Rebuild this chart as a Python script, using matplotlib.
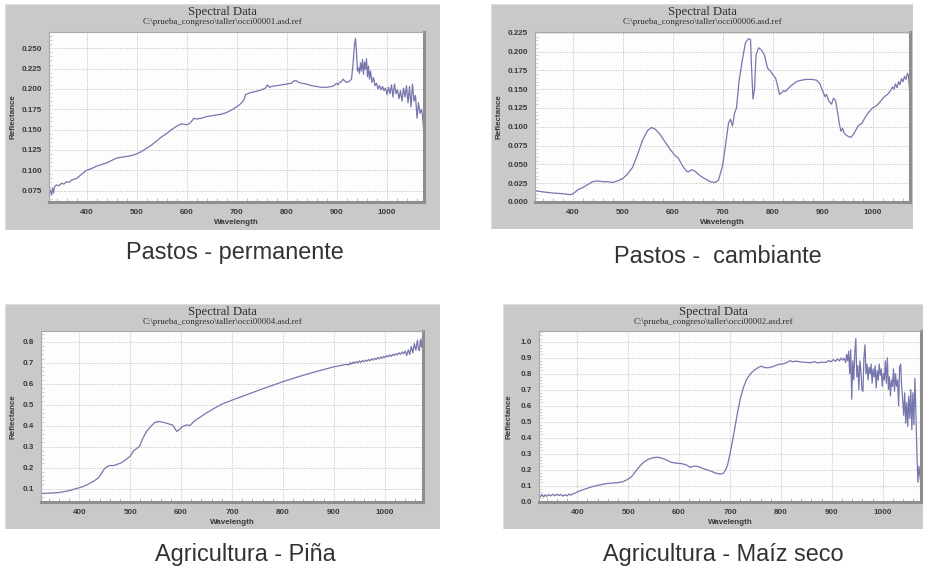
import numpy as np
import matplotlib
matplotlib.use("Agg")
import matplotlib.pyplot as plt
from matplotlib.patches import Rectangle
from matplotlib.ticker import MultipleLocator, FormatStrFormatter

# --- Pastos - permanente (occi00001) ---
wl_perm = [325, 328, 330, 332, 334, 336, 340, 345, 350, 355, 360, 365, 370, 380, 390,
           400, 410, 420, 430, 440, 450, 460, 470, 480, 490, 500, 510, 520, 530, 540,
           550, 560, 570, 580, 590, 600, 605, 610, 615, 620, 630, 640, 650, 660, 670,
           680, 690, 700, 705, 710, 715, 718, 722, 730, 740, 750, 758, 762, 766, 770,
           780, 790, 800, 810, 815, 820, 825, 830, 840, 850, 860, 870, 880, 890, 895,
           900, 903, 906, 910, 913, 916, 920, 925, 930, 933, 936, 938, 940, 942, 944,
           946, 948, 950, 952, 954, 956, 958, 960, 962, 964, 966, 968, 971, 974, 977,
           980, 983, 986, 989, 992, 995, 998, 1001, 1004, 1007, 1010, 1013, 1016, 1019, 1022,
           1025, 1028, 1031, 1034, 1037, 1040, 1043, 1046, 1049, 1052, 1055, 1058, 1061, 1064, 1067,
           1070, 1072, 1074, 1075]
refl_perm = [0.079, 0.074, 0.070, 0.078, 0.072, 0.080, 0.082, 0.081, 0.084, 0.083, 0.086, 0.085, 0.088, 0.090, 0.095,
             0.100, 0.102, 0.105, 0.107, 0.109, 0.112, 0.115, 0.116, 0.117, 0.118, 0.120, 0.123, 0.127, 0.131, 0.136,
             0.141, 0.145, 0.150, 0.154, 0.157, 0.156, 0.157, 0.160, 0.164, 0.163, 0.164, 0.166, 0.167, 0.168, 0.169,
             0.171, 0.174, 0.178, 0.180, 0.183, 0.187, 0.193, 0.194, 0.196, 0.197, 0.199, 0.201, 0.205, 0.202, 0.203,
             0.204, 0.205, 0.206, 0.207, 0.210, 0.210, 0.208, 0.207, 0.206, 0.204, 0.203, 0.202, 0.202, 0.203, 0.204,
             0.207, 0.205, 0.208, 0.209, 0.212, 0.210, 0.208, 0.209, 0.212, 0.230, 0.255, 0.262, 0.245, 0.222, 0.226,
             0.219, 0.232, 0.222, 0.236, 0.218, 0.233, 0.224, 0.237, 0.215, 0.228, 0.212, 0.222, 0.208, 0.214, 0.204,
             0.207, 0.200, 0.204, 0.199, 0.203, 0.198, 0.201, 0.193, 0.202, 0.194, 0.205, 0.190, 0.206, 0.194, 0.199,
             0.188, 0.198, 0.185, 0.201, 0.190, 0.204, 0.183, 0.203, 0.178, 0.206, 0.185, 0.192, 0.164, 0.183, 0.170,
             0.175, 0.168, 0.150, 0.142]

# --- Pastos - cambiante (occi00006) ---
wl_camb = [325, 340, 360, 380, 395, 400, 405, 410, 420, 430, 440, 450, 460, 470, 480,
           490, 500, 510, 520, 530, 540, 550, 558, 565, 575, 585, 595, 605, 612, 620,
           628, 632, 638, 645, 655, 665, 675, 685, 692, 700, 706, 712, 716, 720, 724,
           728, 733, 740, 746, 752, 756, 758, 761, 764, 767, 772, 778, 784, 790, 796,
           802, 806, 810, 814, 818, 822, 826, 830, 838, 848, 858, 868, 878, 888, 895,
           900, 905, 908, 912, 918, 922, 926, 930, 934, 937, 940, 943, 947, 952, 957,
           962, 967, 972, 978, 985, 992, 1000, 1008, 1015, 1022, 1030, 1036, 1040, 1043, 1046,
           1049, 1052, 1055, 1058, 1061, 1064, 1067, 1070, 1072, 1074, 1075]
refl_camb = [0.015, 0.0135, 0.012, 0.011, 0.0098, 0.0105, 0.013, 0.016, 0.019, 0.023, 0.027, 0.028, 0.027, 0.027, 0.026,
             0.028, 0.031, 0.037, 0.046, 0.063, 0.082, 0.095, 0.099, 0.097, 0.090, 0.080, 0.070, 0.062, 0.058, 0.048,
             0.041, 0.040, 0.043, 0.041, 0.035, 0.031, 0.027, 0.026, 0.029, 0.048, 0.075, 0.105, 0.110, 0.101, 0.118,
             0.125, 0.160, 0.190, 0.212, 0.217, 0.216, 0.180, 0.137, 0.150, 0.195, 0.205, 0.202, 0.195, 0.178, 0.174,
             0.168, 0.165, 0.155, 0.143, 0.145, 0.148, 0.147, 0.150, 0.155, 0.160, 0.162, 0.163, 0.163, 0.162, 0.157,
             0.148, 0.140, 0.143, 0.135, 0.130, 0.138, 0.135, 0.120, 0.103, 0.094, 0.098, 0.092, 0.089, 0.087, 0.086,
             0.090, 0.096, 0.102, 0.104, 0.112, 0.119, 0.125, 0.128, 0.133, 0.139, 0.143, 0.148, 0.153, 0.150, 0.157,
             0.152, 0.160, 0.156, 0.164, 0.160, 0.167, 0.163, 0.171, 0.168, 0.150, 0.148]

# --- Agricultura - Piña (occi00004) ---
wl_pina = [325, 340, 360, 380, 400, 410, 420, 430, 438, 445, 450, 455, 460, 468, 475,
           482, 490, 500, 506, 512, 518, 525, 532, 540, 548, 555, 562, 570, 578, 584,
           588, 592, 597, 603, 610, 618, 625, 635, 650, 665, 680, 700, 720, 740, 760,
           780, 800, 820, 840, 860, 880, 900, 915, 925, 930, 932, 935, 938, 941, 944,
           947, 950, 953, 956, 959, 962, 965, 968, 971, 974, 977, 980, 983, 986, 989,
           992, 995, 998, 1001, 1004, 1007, 1010, 1013, 1016, 1019, 1022, 1025, 1028, 1031, 1034,
           1037, 1040, 1043, 1046, 1049, 1052, 1055, 1058, 1061, 1064, 1066, 1068, 1070, 1072, 1074,
           1075]
refl_pina = [0.077, 0.078, 0.081, 0.090, 0.104, 0.112, 0.124, 0.138, 0.152, 0.178, 0.196, 0.205, 0.210, 0.210, 0.216,
             0.222, 0.235, 0.254, 0.278, 0.290, 0.300, 0.340, 0.372, 0.395, 0.415, 0.420, 0.418, 0.413, 0.407, 0.402,
             0.385, 0.373, 0.382, 0.397, 0.403, 0.402, 0.420, 0.437, 0.461, 0.483, 0.503, 0.522, 0.540, 0.558, 0.576,
             0.593, 0.610, 0.626, 0.641, 0.655, 0.668, 0.681, 0.688, 0.693, 0.690, 0.701, 0.694, 0.704, 0.697, 0.706,
             0.700, 0.709, 0.702, 0.711, 0.705, 0.713, 0.708, 0.716, 0.710, 0.719, 0.713, 0.722, 0.716, 0.725, 0.719,
             0.728, 0.722, 0.731, 0.726, 0.735, 0.729, 0.738, 0.731, 0.741, 0.735, 0.744, 0.738, 0.748, 0.741, 0.752,
             0.744, 0.756, 0.735, 0.762, 0.740, 0.778, 0.748, 0.792, 0.760, 0.808, 0.768, 0.758, 0.812, 0.775, 0.822,
             0.800]

# --- Agricultura - Maíz seco (occi00002) ---
wl_maiz = [325, 328, 331, 334, 337, 340, 344, 348, 352, 356, 360, 364, 368, 372, 376,
           380, 384, 388, 392, 396, 400, 410, 420, 430, 440, 450, 460, 470, 480, 490,
           500, 508, 515, 522, 530, 540, 550, 558, 566, 575, 585, 595, 605, 615, 622,
           628, 634, 640, 648, 656, 664, 672, 680, 686, 690, 695, 700, 705, 710, 715,
           720, 726, 732, 740, 748, 756, 762, 768, 775, 785, 795, 805, 812, 818, 822,
           830, 840, 850, 860, 866, 872, 880, 888, 894, 898, 903, 907, 911, 915, 918,
           921, 924, 927, 929, 931, 933, 935, 937, 939, 941, 943, 945, 947, 949, 951,
           953, 955, 957, 959, 961, 963, 965, 967, 969, 971, 973, 975, 977, 979, 981,
           983, 985, 987, 989, 991, 993, 995, 997, 999, 1001, 1003, 1005, 1007, 1009, 1011,
           1013, 1015, 1017, 1019, 1021, 1023, 1025, 1027, 1029, 1031, 1033, 1035, 1037, 1039, 1041,
           1043, 1045, 1047, 1049, 1051, 1053, 1055, 1057, 1059, 1061, 1063, 1065, 1067, 1069, 1071,
           1073, 1075]
refl_maiz = [0.040, 0.030, 0.045, 0.028, 0.042, 0.032, 0.044, 0.035, 0.046, 0.036, 0.045, 0.038, 0.044, 0.034, 0.042,
             0.035, 0.047, 0.040, 0.050, 0.052, 0.060, 0.072, 0.083, 0.093, 0.101, 0.108, 0.113, 0.116, 0.118, 0.124,
             0.140, 0.160, 0.190, 0.218, 0.245, 0.265, 0.275, 0.277, 0.272, 0.260, 0.245, 0.240, 0.237, 0.228, 0.213,
             0.220, 0.222, 0.216, 0.205, 0.197, 0.188, 0.178, 0.172, 0.175, 0.190, 0.225, 0.300, 0.380, 0.470, 0.560,
             0.640, 0.710, 0.760, 0.800, 0.822, 0.840, 0.847, 0.838, 0.837, 0.845, 0.858, 0.862, 0.870, 0.882, 0.875,
             0.878, 0.873, 0.870, 0.869, 0.876, 0.867, 0.872, 0.870, 0.882, 0.874, 0.888, 0.877, 0.892, 0.880, 0.898,
             0.885, 0.896, 0.870, 0.920, 0.880, 0.940, 0.800, 0.950, 0.640, 0.880, 0.760, 0.930, 1.020, 0.780, 0.850,
             0.700, 0.880, 0.820, 0.700, 0.690, 0.900, 0.980, 0.800, 0.860, 0.760, 0.840, 0.800, 0.860, 0.740, 0.830,
             0.780, 0.850, 0.710, 0.820, 0.760, 0.860, 0.790, 0.830, 0.720, 0.800, 0.760, 0.880, 0.740, 0.900, 0.700,
             0.780, 0.660, 0.760, 0.720, 0.830, 0.690, 0.800, 0.720, 0.760, 0.600, 0.840, 0.860, 0.720, 0.640, 0.540,
             0.680, 0.490, 0.620, 0.470, 0.660, 0.520, 0.700, 0.450, 0.680, 0.480, 0.770, 0.550, 0.300, 0.120, 0.220,
             0.160, 0.100]

x_ticks = [400, 500, 600, 700, 800, 900, 1000]
subtitle_tpl = "C:\\prueba_congreso\\taller\\occi{:05d}.asd.ref"

W, H = 926, 570
LINE = "#7676ae"
FRAME = "#c9c9c9"

fig = plt.figure(figsize=(W / 100, H / 100), dpi=100)
fig.patch.set_facecolor("white")


def px_box(x0, y0, x1, y1):
    # pixel box (origin top-left) -> figure fraction [left, bottom, width, height]
    return [x0 / W, 1 - y1 / H, (x1 - x0) / W, (y1 - y0) / H]


def panel(frame, plot, wl, refl, ylim, ymajor, yfmt, file_no, ylab_x, caption, cap_xy):
    fx0, fy0, fx1, fy1 = frame
    # grey window behind the plot
    bg = fig.add_axes(px_box(*frame), zorder=-5)
    bg.set_axis_off()
    bg.add_patch(Rectangle((0, 0), 1, 1, transform=bg.transAxes, facecolor=FRAME,
                           edgecolor="#dcdcdc", linewidth=0.8))

    ax = fig.add_axes(px_box(*plot), zorder=1)
    ax.set_facecolor("#fdfdfd")
    ax.plot(wl, refl, color=LINE, linewidth=0.9)
    ax.set_xlim(325, 1075)
    ax.set_ylim(*ylim)

    ax.set_xticks(x_ticks)
    ax.xaxis.set_minor_locator(MultipleLocator(20))
    ax.yaxis.set_major_locator(MultipleLocator(ymajor))
    ax.yaxis.set_minor_locator(MultipleLocator(ymajor / 5))
    ax.yaxis.set_major_formatter(FormatStrFormatter(yfmt))
    ax.tick_params(axis="both", which="major", length=0, labelsize=5.8,
                   labelcolor="#3a3a3a", pad=5)
    ax.tick_params(axis="x", which="minor", direction="in", length=3,
                   color="#b0b0b0", width=0.6)
    ax.tick_params(axis="y", which="minor", direction="in", length=2,
                   color="#c0c0c0", width=0.5)
    for lbl in ax.get_xticklabels() + ax.get_yticklabels():
        lbl.set_fontweight("bold")
        lbl.set_family("Liberation Sans")
    ax.grid(True, which="major", linestyle=(0, (1, 1.5)), color="#bcbcbc", linewidth=0.7)

    for side in ["top", "left"]:
        ax.spines[side].set_color("#a8a8a8")
        ax.spines[side].set_linewidth(0.8)
    for side in ["right", "bottom"]:
        ax.spines[side].set_color("#8e8e8e")
        ax.spines[side].set_linewidth(2.2)

    cx = (fx0 + fx1) / 2
    fig.text(cx / W, 1 - (fy0 + 8) / H, "Spectral Data", ha="center", va="center",
             family="Liberation Serif", fontsize=9.2, color="#2e2e2e")
    fig.text(cx / W, 1 - (fy0 + 18.5) / H, subtitle_tpl.format(file_no), ha="center",
             va="center", family="Liberation Serif", fontsize=6.4, color="#2e2e2e")
    fig.text(((plot[0] + plot[2]) / 2) / W, 1 - (fy1 - 7) / H, "Wavelength", ha="center",
             va="center", fontsize=5.8, fontweight="bold", color="#3a3a3a",
             family="Liberation Sans")
    fig.text(ylab_x / W, 1 - ((plot[1] + plot[3]) / 2) / H, "Reflectance", ha="center",
             va="center", rotation=90, fontsize=5.8, fontweight="bold", color="#3a3a3a",
             family="Liberation Sans")
    fig.text(cap_xy[0] / W, 1 - cap_xy[1] / H, caption, ha="center", va="center",
             family="Liberation Sans", fontsize=16.9, color="#333333")
    return ax


panel((5, 4, 440, 230), (49, 32, 424, 202), wl_perm, refl_perm, (0.061, 0.270), 0.025,
      "%.3f", 1, 13, "Pastos - permanente", (235, 253))
panel((491, 4, 913, 229), (535, 32, 910, 202), wl_camb, refl_camb, (0.0, 0.226), 0.025,
      "%.3f", 6, 499, "Pastos -  cambiante", (718, 256))
panel((5, 304, 440, 529), (41, 331, 423, 502), wl_pina, refl_pina, (0.036, 0.852), 0.1,
      "%.1f", 4, 13, "Agricultura - Piña", (245, 555))
panel((503, 304, 923, 529), (539, 331, 921, 502), wl_maiz, refl_maiz, (-0.003, 1.067), 0.1,
      "%.1f", 2, 509, "Agricultura - Maíz seco", (723, 554))

fig.savefig("out.png", dpi=100, facecolor="white")
